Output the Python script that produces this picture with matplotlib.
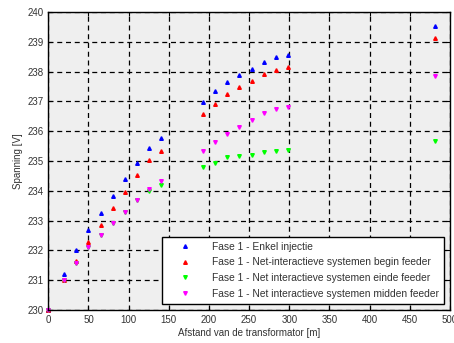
import numpy as np
import matplotlib
matplotlib.use('Agg')
import matplotlib.pyplot as plt

plt.rcParams['font.family'] = ['Liberation Sans', 'DejaVu Sans']

# afstand van de transformator [m]
afstand = [0, 20, 35, 50, 65, 80, 95, 110, 125, 140,
           193, 208, 223, 238, 253, 268, 283, 298, 482]

# spanning [V] per scenario
enkel = [230.0, 231.22, 232.01, 232.68, 233.25, 233.83, 234.39, 234.94, 235.45, 235.78,
         236.97, 237.34, 237.66, 237.90, 238.10, 238.32, 238.48, 238.57, 239.53]
begin = [230.0, 231.0, 231.64, 232.29, 232.85, 233.41, 233.97, 234.54, 235.02, 235.35,
         236.57, 236.91, 237.24, 237.47, 237.70, 237.92, 238.05, 238.16, 239.12]
einde = [230.0, 231.0, 231.59, 232.11, 232.52, 232.91, 233.30, 233.70, 234.00, 234.18,
         234.80, 234.93, 235.12, 235.16, 235.21, 235.29, 235.32, 235.36, 235.68]
midden = [230.0, 231.0, 231.59, 232.11, 232.52, 232.91, 233.30, 233.70, 234.06, 234.34,
          235.35, 235.65, 235.92, 236.13, 236.38, 236.60, 236.74, 236.82, 237.85]

labels = ['Fase 1 - Enkel injectie',
          'Fase 1 - Net-interactieve systemen begin feeder',
          'Fase 1 - Net interactieve systemen einde feeder',
          'Fase 1 - Net interactieve systemen midden feeder']

fig = plt.figure(figsize=(4.54, 3.43), dpi=100)
ax = fig.add_axes([0.1064, 0.0962, 0.8846, 0.8688])
ax.set_facecolor('#efefef')

series = [(enkel, '^', '#0000ff'), (begin, '^', '#ff0000'),
          (einde, 'v', '#00ff00'), (midden, 'v', '#ff00ff')]
for (vals, m, c), lab in zip(series, labels):
    ax.plot(afstand, vals, m, color=c, mec=c, ms=2.6, label=lab, clip_on=False)

ax.set_xlim(0, 500)
ax.set_ylim(230, 240)
ax.set_xticks(np.arange(0, 501, 50))
ax.set_yticks(np.arange(230, 241, 1))
ax.grid(True, color='black', linestyle=(0, (4, 3)), linewidth=0.9)
ax.set_axisbelow(True)
ax.tick_params(direction='in', top=True, right=True, labelsize=7, length=3,
               labelcolor='#333333')
for s in ax.spines.values():
    s.set_linewidth(1.0)

ax.set_xlabel('Afstand van de transformator [m]', fontsize=7, labelpad=2, color='#333333')
ax.set_ylabel('Spanning [V]', fontsize=7, labelpad=3, color='#333333')

leg = ax.legend(loc='lower right', fontsize=7.4, frameon=True, fancybox=False,
                edgecolor='black', framealpha=1, borderaxespad=0.6,
                handletextpad=0.9, labelspacing=0.55, handlelength=3.4,
                borderpad=0.5)
leg.get_frame().set_linewidth(1.0)
for t in leg.get_texts():
    t.set_color('#333333')

fig.savefig('out.png', dpi=100)
